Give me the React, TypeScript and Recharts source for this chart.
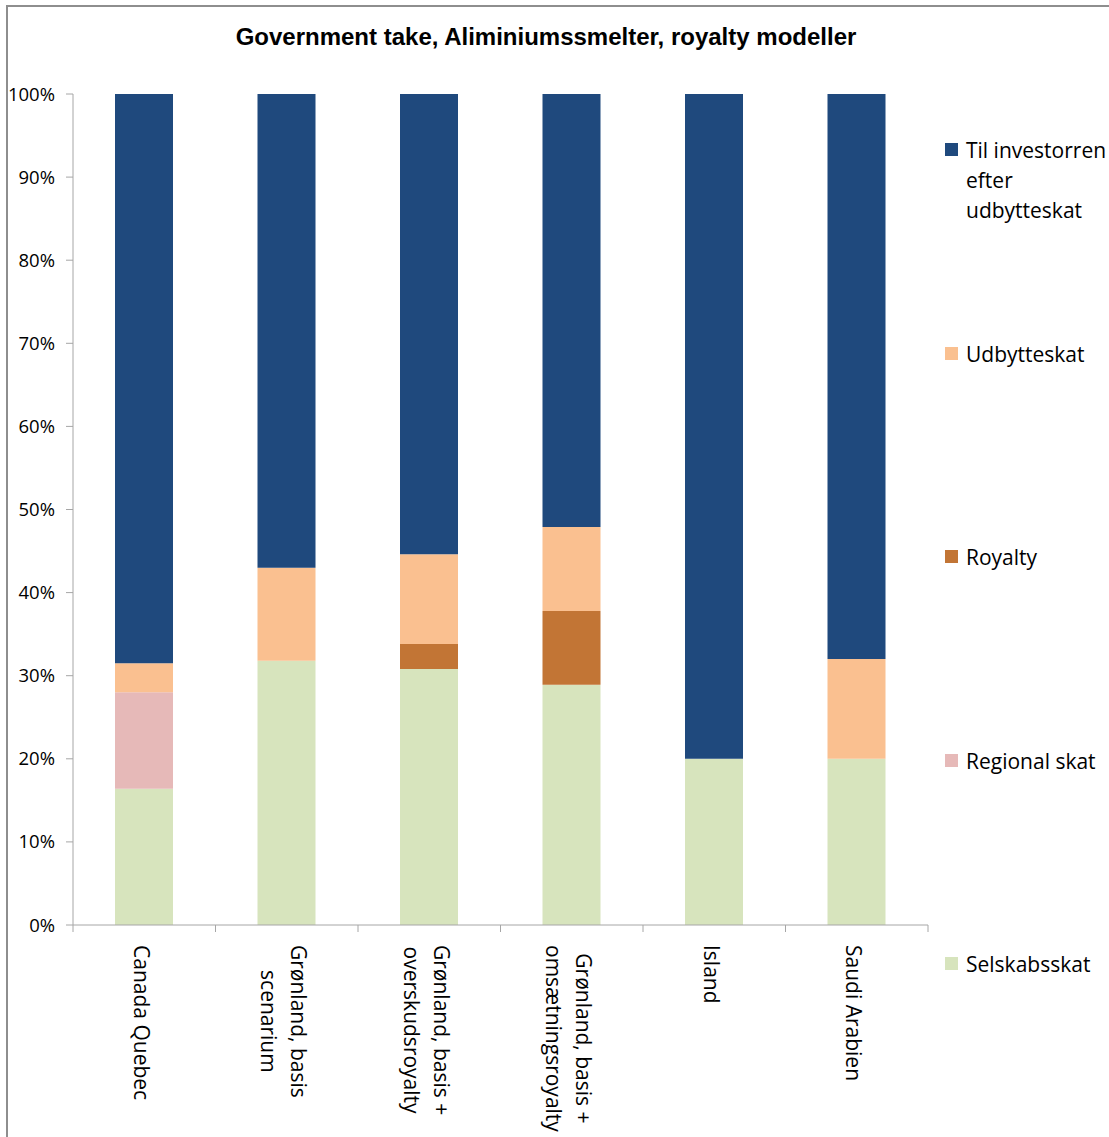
import React from 'react';
import { BarChart, Bar, XAxis, YAxis } from 'recharts';

const categories = [
  'Canada Quebec',
  'Grønland, basis\nscenarium',
  'Grønland, basis +\noverskudsroyalty',
  'Grønland, basis +\nomsætningsroyalty',
  'Island',
  'Saudi Arabien',
];
const selskabsskat = [16.4, 31.8, 30.8, 28.9, 20.0, 20.0];
const regionalSkat = [11.6, 0, 0, 0, 0, 0];
const royalty = [0, 0, 3.0, 8.9, 0, 0];
const udbytteskat = [3.5, 11.2, 10.8, 10.1, 0, 12.0];
const tilInvestor = [68.5, 57.0, 55.4, 52.1, 80.0, 68.0];
const yTicks = [0, 10, 20, 30, 40, 50, 60, 70, 80, 90, 100];

const seriesDefs = [
  { key: 'selskabsskat', name: 'Selskabsskat', values: selskabsskat, color: '#D7E4BD' },
  { key: 'regional', name: 'Regional skat', values: regionalSkat, color: '#E6B9B8' },
  { key: 'royalty', name: 'Royalty', values: royalty, color: '#C27535' },
  { key: 'udbytteskat', name: 'Udbytteskat', values: udbytteskat, color: '#FAC090' },
  { key: 'investor', name: 'Til investorren efter udbytteskat', values: tilInvestor, color: '#1F497D' },
];
const legendLines: Record<string, string[]> = {
  investor: ['Til investorren', 'efter', 'udbytteskat'],
};

const data = categories.map((c, i) => {
  const row: any = { name: c };
  seriesDefs.forEach((s) => (row[s.key] = s.values[i]));
  return row;
});

const W = 1100;
const H = 1129;
const MARGIN = { top: 87, right: 180, bottom: 11, left: 5 };
const Y_W = 60;
const X_H = 200;
const PLOT_W = W - MARGIN.left - MARGIN.right - Y_W;
const PLOT_BOTTOM = H - MARGIN.bottom - X_H;
const AXIS = '#A6A6A6';
const BORDER = '#8E8E8E';
const FONT = '"Open Sans", "Noto Sans", sans-serif';

let ctx: CanvasRenderingContext2D | null = null;
function measure(t: string, font: string): number {
  if (!ctx) ctx = document.createElement('canvas').getContext('2d');
  if (!ctx) return t.length * 10;
  ctx.font = font;
  return ctx.measureText(t).width;
}

const XTick = (props: any) => {
  const { x, payload, index } = props;
  const band = PLOT_W / categories.length;
  const lines = String(payload.value).split('\n');
  const fs = 21;
  const maxW = Math.max(...lines.map((l) => measure(l, `${fs}px "Open Sans"`)));
  const n = lines.length;
  const lh = 30;
  const top = PLOT_BOTTOM + 20;
  return (
    <g>
      <line x1={x - band / 2} x2={x - band / 2} y1={PLOT_BOTTOM} y2={PLOT_BOTTOM + 7} stroke={AXIS} />
      {index === categories.length - 1 && (
        <line x1={x + band / 2} x2={x + band / 2} y1={PLOT_BOTTOM} y2={PLOT_BOTTOM + 7} stroke={AXIS} />
      )}
      <text transform={`translate(${x - 3},${top}) rotate(90)`} fontFamily={FONT} fontSize={fs} fill="#000">
        {lines.map((l, i) => (
          <tspan key={i} x={maxW / 2} y={(i - (n - 1) / 2) * lh} dy="0.35em" textAnchor="middle">
            {l}
          </tspan>
        ))}
      </text>
    </g>
  );
};

const legendOrder = [...seriesDefs].reverse();

export default function App() {
  return (
    <div
      style={{
        position: 'absolute',
        left: 0,
        top: 0,
        width: 1109,
        height: 1137,
        overflow: 'hidden',
        background: '#fff',
      }}
    >
      <div style={{ position: 'absolute', left: 6, top: 5, width: 1103, height: 2, background: BORDER }} />
      <div style={{ position: 'absolute', left: 6, top: 5, width: 2, height: 1132, background: BORDER }} />
      <div style={{ position: 'absolute', left: 8, top: 7, width: W, height: H }}>
        <div
          style={{
            position: 'absolute',
            left: 0,
            width: 1076,
            top: 15,
            textAlign: 'center',
            fontFamily: '"Liberation Sans", Arial, sans-serif',
            fontWeight: 'bold',
            fontSize: 24,
            lineHeight: '30px',
            color: '#000',
            zIndex: 2,
          }}
        >
          Government take, Aliminiumssmelter, royalty modeller
        </div>
        <BarChart width={W} height={H} data={data} margin={MARGIN} style={{ overflow: 'visible' }}>
          <YAxis
            type="number"
            domain={[0, 100]}
            ticks={yTicks}
            width={Y_W}
            tickFormatter={(v: number) => `${v}%`}
            axisLine={{ stroke: AXIS }}
            tickLine={{ stroke: AXIS }}
            tickSize={7}
            tickMargin={11}
            tick={{ fontFamily: FONT, fontSize: 18.5, fill: '#000' }}
            interval={0}
          />
          <XAxis
            dataKey="name"
            height={X_H}
            axisLine={{ stroke: AXIS }}
            tickLine={false}
            tick={<XTick />}
            interval={0}
          />
          {seriesDefs.map((s) => (
            <Bar
              key={s.key}
              dataKey={s.key}
              name={s.name}
              stackId="a"
              fill={s.color}
              barSize={58}
              isAnimationActive={false}
            />
          ))}
        </BarChart>
        {legendOrder.map((s, i) => {
          const lines = legendLines[s.key] || [s.name];
          return (
            <div
              key={s.key}
              style={{
                position: 'absolute',
                left: 937,
                top: 128 + i * 203.5,
                fontFamily: FONT,
                fontSize: 21,
                lineHeight: '30px',
                color: '#000',
                whiteSpace: 'nowrap',
              }}
            >
              <div
                style={{
                  position: 'absolute',
                  left: 0,
                  top: 8,
                  width: 13,
                  height: 13,
                  background: s.color,
                }}
              />
              <div style={{ marginLeft: 21 }}>
                {lines.map((l, j) => (
                  <div key={j}>{l}</div>
                ))}
              </div>
            </div>
          );
        })}
      </div>
    </div>
  );
}
